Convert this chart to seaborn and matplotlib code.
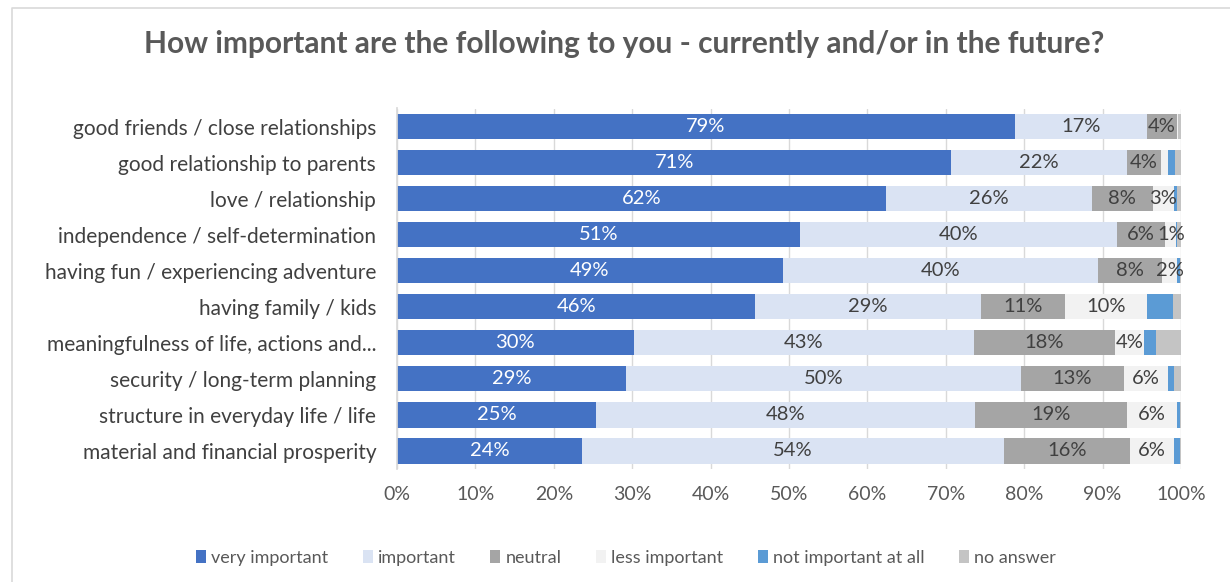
import numpy as np
import pandas as pd
import seaborn as sns
import matplotlib.pyplot as plt
from matplotlib.patches import Patch
from matplotlib.lines import Line2D

categories = [
    "good friends / close relationships",
    "good relationship to parents",
    "love / relationship",
    "independence / self-determination",
    "having fun / experiencing adventure",
    "having family / kids",
    "meaningfulness of life, actions and...",
    "security / long-term planning",
    "structure in everyday life / life",
    "material and financial prosperity",
]
series_names = ["very important", "important", "neutral",
                "less important", "not important at all", "no answer"]

very_important = [78.8, 70.7, 62.4, 51.4, 49.2, 45.7, 30.2, 29.2, 25.4, 23.6]
important = [16.9, 22.4, 26.2, 40.4, 40.2, 28.8, 43.4, 50.4, 48.3, 53.8]
neutral = [3.8, 4.4, 7.8, 6.2, 8.2, 10.7, 18.0, 13.1, 19.4, 16.1]
less_important = [0.1, 0.9, 2.7, 1.4, 1.9, 10.4, 3.7, 5.6, 6.4, 5.6]
not_important = [0.0, 0.8, 0.4, 0.1, 0.4, 3.4, 1.5, 0.8, 0.4, 0.8]
no_answer = [0.4, 0.8, 0.5, 0.5, 0.1, 1.0, 3.2, 0.9, 0.1, 0.1]

x_ticks = [0, 10, 20, 30, 40, 50, 60, 70, 80, 90, 100]

colors = ["#4472C4", "#DAE3F3", "#A5A5A5", "#F2F2F2", "#5B9BD5", "#C4C4C4"]
text_colors = ["white", "#404040", "#404040", "#404040"]

sns.set_theme(style="white")
plt.rcParams["font.family"] = ["Lato", "DejaVu Sans"]

W, H = 1230, 582
fig = plt.figure(figsize=(W / 100, H / 100), dpi=100)
ax = fig.add_axes([397 / W, 1 - 469 / H, (1181 - 397) / W, (469 - 108.5) / H])

values = np.array([very_important, important, neutral,
                   less_important, not_important, no_answer])
cum = np.cumsum(values, axis=0)

# stacked bars: draw cumulative totals from the outermost segment inward
for k in range(len(series_names) - 1, -1, -1):
    df = pd.DataFrame({"category": categories, "value": cum[k]})
    sns.barplot(data=df, x="value", y="category", orient="h",
                color=colors[k], saturation=1, width=0.7,
                errorbar=None, linewidth=0, ax=ax)

# segment value labels
for k in range(4):
    starts = cum[k] - values[k]
    for i, v in enumerate(values[k]):
        if v >= 1.0:
            ax.text(starts[i] + v / 2, i, f"{v:.0f}%", ha="center", va="center",
                    fontsize=14.5, color=text_colors[k], zorder=5)

ax.set_xlim(0, 100)
ax.set_xticks(x_ticks)
ax.set_xticklabels([f"{t}%" for t in x_ticks])
ax.set_xlabel("")
ax.set_ylabel("")
ax.xaxis.grid(True, color="#D9D9D9", linewidth=1)
ax.set_axisbelow(True)
for s in ["top", "right", "bottom"]:
    ax.spines[s].set_visible(False)
ax.spines["left"].set_color("#D9D9D9")
ax.tick_params(axis="x", length=0, pad=12, labelsize=14, labelcolor="#595959")
ax.tick_params(axis="y", length=0, pad=15, labelsize=15, labelcolor="#404040")

fig.text(624 / W, 1 - 44 / H,
         "How important are the following to you - currently and/or in the future?",
         ha="center", va="center", fontsize=21.5, fontweight="bold", color="#595959")

handles = [Patch(facecolor=c, edgecolor="none") for c in colors]
fig.legend(handles, series_names, loc="center", ncol=6,
           bbox_to_anchor=(626 / W, 1 - 558 / H), frameon=False,
           fontsize=13, labelcolor="#595959", handlelength=0.55, handleheight=0.75,
           handletextpad=0.3, columnspacing=1.9)

# outer chart frame
fig.add_artist(Line2D([12 / W, 12 / W, 1], [0, 1 - 8 / H, 1 - 8 / H],
                      transform=fig.transFigure, color="#D9D9D9", linewidth=1.2))

fig.savefig("out.png", dpi=100, facecolor="white")
